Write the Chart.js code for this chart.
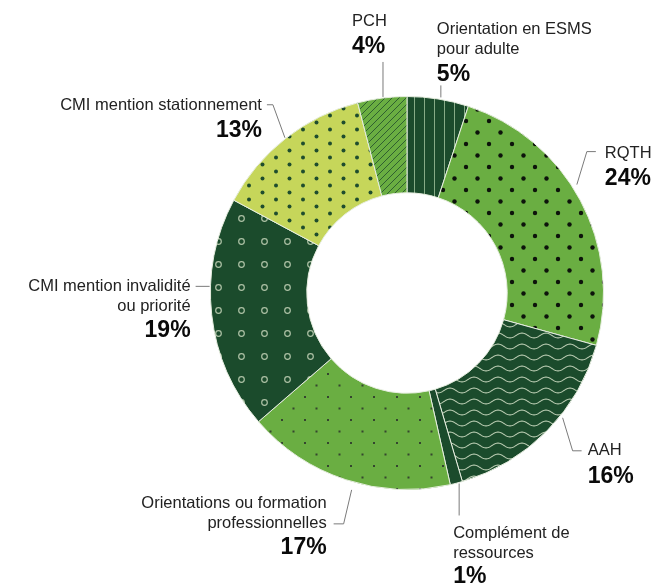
<!DOCTYPE html>
<html>
<head>
<meta charset="utf-8">
<script src="https://cdn.jsdelivr.net/npm/chart.js@4"></script>
<style>
  html, body { margin: 0; padding: 0; background: #fff; }
  #wrap { width: 654px; height: 586px; position: relative; }
</style>
</head>
<body>
<div id="wrap"><canvas id="graficoDonut"></canvas></div>
<script>
// categories and values (clockwise from top)
const categorias = [
  ['Orientation en ESMS', 'pour adulte'],
  ['RQTH'],
  ['AAH'],
  ['Complément de', 'ressources'],
  ['Orientations ou formation', 'professionnelles'],
  ['CMI mention invalidité', 'ou priorité'],
  ['CMI mention stationnement'],
  ['PCH']
];
const valores = [5, 24, 16, 1, 17, 19, 13, 4];
const etiquetas = ['5%', '24%', '16%', '1%', '17%', '19%', '13%', '4%'];

// label layout: where the leader leaves the arc (fraction along arc, gap), leader path and text offsets
const layoutEtiquetas = [
  { f: 0.54, gap: 2, path: [[0, -12]], tx: -4, align: 'left', dys: [-63, -43, -16] },
  { f: 0.45, gap: 5, path: [[10, -33], [19, -33]], tx: 28, align: 'left', dys: [-27, 0] },
  { f: 0.40, gap: 3, path: [[10, 33], [19, 33]], tx: 25, align: 'left', dys: [37, 65] },
  { f: 0.29, gap: 1, path: [[0, 32]], tx: -6, align: 'left', dys: [55, 75, 100] },
  { f: 0.46, gap: 8, path: [[-8, 34], [-18, 34]], tx: -25, align: 'right', dys: [18, 38, 64] },
  { f: 0.62, gap: 1, path: [[-14, 0]], tx: -19, align: 'right', dys: [5, 25, 51] },
  { f: 0.50, gap: 1, path: [[-12, -33], [-18, -33]], tx: -23, align: 'right', dys: [-28, -1] },
  { f: 0.52, gap: 1, path: [[0, -35]], tx: -31, align: 'left', dys: [-71, -44] }
];

const oscuro = '#1b4b2c';
const medio = '#6aae42';
const claro = '#c6d65a';

function tile(w, h, fondo, dibujar) {
  const c = document.createElement('canvas');
  c.width = w; c.height = h;
  const g = c.getContext('2d');
  g.fillStyle = fondo;
  g.fillRect(0, 0, w, h);
  dibujar(g, w, h);
  return c;
}

function patron(c) {
  return document.createElement('canvas').getContext('2d').createPattern(c, 'repeat');
}

function puntos(color, r, lista) {
  return function(g) {
    g.fillStyle = color;
    lista.forEach(p => { g.beginPath(); g.arc(p[0], p[1], r, 0, Math.PI * 2); g.fill(); });
  };
}

const patrones = [
  // ESMS: vertical stripes
  patron(tile(10, 10, oscuro, function(g) {
    g.fillStyle = '#86ab86';
    g.fillRect(4, 0, 1, 10);
  })),
  // RQTH: black dots
  patron(tile(23, 23, medio, puntos('#0d130b', 2.2, [[6, 6], [17.5, 17.5]]))),
  // AAH: waves
  patron(tile(24, 11, oscuro, function(g, w) {
    g.strokeStyle = '#b3c6ac';
    g.lineWidth = 1.1;
    g.beginPath();
    for (let x = -1; x <= w + 1; x += 0.5) {
      const y = 5.5 + 2.4 * Math.sin(x / w * Math.PI * 2);
      if (x === -1) g.moveTo(x, y); else g.lineTo(x, y);
    }
    g.stroke();
  })),
  // Complement: plain
  oscuro,
  // Orientations pro: small dark dots
  patron(tile(23, 23, medio, function(g) {
    g.fillStyle = '#34452f';
    g.fillRect(5, 5, 2, 2);
    g.fillRect(16.5, 16.5, 2, 2);
  })),
  // CMI invalidite: rings
  patron(tile(23, 23, oscuro, function(g) {
    g.strokeStyle = '#aec2a6';
    g.lineWidth = 1.2;
    g.beginPath();
    g.arc(11.5, 11.5, 2.8, 0, Math.PI * 2);
    g.stroke();
  })),
  // CMI stationnement: dark green dots
  patron(tile(27, 14, claro, puntos('#1f4d2e', 2, [[6, 3.5], [19.5, 10.5]]))),
  // PCH: diagonal hatch
  patron(tile(7, 7, medio, function(g) {
    g.strokeStyle = '#2f5f30';
    g.lineWidth = 1;
    g.beginPath();
    g.moveTo(-1, 1); g.lineTo(1, -1);
    g.moveTo(0, 7); g.lineTo(7, 0);
    g.moveTo(6, 8); g.lineTo(8, 6);
    g.stroke();
  }))
];

const pluginEtiquetas = {
  id: 'etiquetas',
  afterDraw(chart) {
    const ctx = chart.ctx;
    const arcos = chart.getDatasetMeta(0).data;
    ctx.save();
    arcos.forEach((arco, i) => {
      const L = layoutEtiquetas[i];
      const a = arco.startAngle + L.f * (arco.endAngle - arco.startAngle);
      const r = arco.outerRadius + L.gap;
      const sx = arco.x + r * Math.cos(a);
      const sy = arco.y + r * Math.sin(a);
      ctx.strokeStyle = '#7a7a7a';
      ctx.lineWidth = 1;
      ctx.beginPath();
      ctx.moveTo(sx, sy);
      L.path.forEach(p => ctx.lineTo(sx + p[0], sy + p[1]));
      ctx.stroke();
      ctx.textAlign = L.align;
      ctx.textBaseline = 'alphabetic';
      const lineas = categorias[i];
      lineas.forEach((t, k) => {
        ctx.font = '16.5px "Liberation Sans", Arial, sans-serif';
        ctx.fillStyle = '#222';
        ctx.fillText(t, sx + L.tx, sy + L.dys[k]);
      });
      ctx.font = 'bold 23px "Liberation Sans", Arial, sans-serif';
      ctx.fillStyle = '#0a0a0a';
      ctx.fillText(etiquetas[i], sx + L.tx, sy + L.dys[lineas.length]);
    });
    ctx.restore();
  }
};

document.addEventListener('DOMContentLoaded', function() {
  const ctx = document.getElementById('graficoDonut').getContext('2d');
  new Chart(ctx, {
    type: 'doughnut',
    data: {
      labels: categorias.map(c => c.join(' ')),
      datasets: [{
        data: valores,
        backgroundColor: patrones,
        borderColor: '#e6eddf',
        borderWidth: 1
      }]
    },
    options: {
      responsive: true,
      maintainAspectRatio: false,
      animation: false,
      cutout: '51%',
      layout: { padding: { left: 210, right: 50, top: 96, bottom: 96 } },
      plugins: {
        legend: { display: false },
        tooltip: { enabled: false }
      }
    },
    plugins: [pluginEtiquetas]
  });
});
</script>
</body>
</html>
